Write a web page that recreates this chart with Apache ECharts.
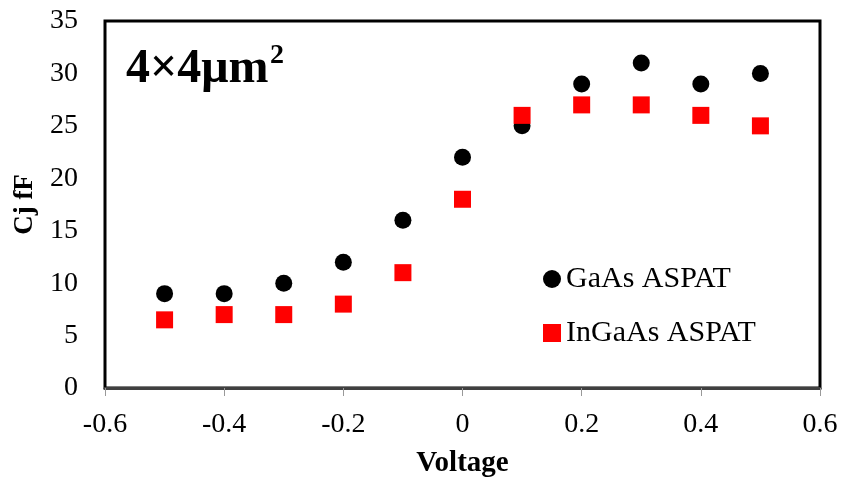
<!DOCTYPE html>
<html>
<head>
<meta charset="utf-8">
<script src="https://cdn.jsdelivr.net/npm/echarts@6/dist/echarts.min.js"></script>
<style>
  html, body { margin: 0; padding: 0; background: #fff; }
  #chart { width: 842px; height: 480px; }
</style>
</head>
<body>
<div id="chart"></div>
<script>
// Junction capacitance versus bias voltage, 4x4 um^2 devices
const voltage = [-0.5, -0.4, -0.3, -0.2, -0.1, 0, 0.1, 0.2, 0.3, 0.4, 0.5];
const gaasCj = [9, 9, 10, 12, 16, 22, 25, 29, 31, 29, 30];
const ingaasCj = [6.5, 7, 7, 8, 11, 18, 26, 27, 27, 26, 25];
const yTicks = [0, 5, 10, 15, 20, 25, 30, 35];
const xTicks = [-0.6, -0.4, -0.2, 0, 0.2, 0.4, 0.6];

const serif = '"Liberation Serif", "Times New Roman", serif';
const pairs = (xs, ys) => xs.map((x, i) => [x, ys[i]]);

const chart = echarts.init(document.getElementById('chart'), null, { renderer: 'canvas' });
chart.setOption({
  animation: false,
  backgroundColor: '#ffffff',
  grid: {
    left: 105, right: 22, top: 21, bottom: 92,
    outerBoundsMode: 'none',
    containLabel: false,
    show: true, borderColor: '#000', borderWidth: 3, backgroundColor: 'transparent'
  },
  xAxis: {
    type: 'value',
    min: xTicks[0], max: xTicks[xTicks.length - 1], interval: 0.2,
    name: 'Voltage', nameLocation: 'middle', nameGap: 61,
    nameTextStyle: { fontFamily: serif, fontWeight: 'bold', fontSize: 29, color: '#000' },
    axisLine: { show: true, lineStyle: { color: '#404040', width: 3 } },
    axisTick: { show: true, length: 8, lineStyle: { color: '#999', width: 1 } },
    axisLabel: { fontFamily: serif, fontSize: 28, color: '#000', margin: 23 },
    splitLine: { show: false }
  },
  yAxis: {
    type: 'value',
    min: yTicks[0], max: yTicks[yTicks.length - 1], interval: 5,
    name: 'Cj fF', nameLocation: 'middle', nameGap: 66,
    nameTextStyle: { fontFamily: serif, fontWeight: 'bold', fontSize: 27, color: '#000' },
    axisLine: { show: false },
    axisTick: { show: false },
    axisLabel: { fontFamily: serif, fontSize: 28, color: '#000', margin: 27 },
    splitLine: { show: false }
  },
  legend: {
    orient: 'vertical',
    left: 538, top: 258,
    itemWidth: 18, itemHeight: 18, itemGap: 22,
    textStyle: { fontFamily: serif, fontSize: 30, color: '#000', lineHeight: 32 },
    data: [
      { name: 'GaAs ASPAT', icon: 'circle' },
      { name: 'InGaAs ASPAT', icon: 'rect' }
    ]
  },
  graphic: [
    {
      type: 'text', left: 126, top: 46,
      style: { text: '4×4μm', font: 'bold 48px ' + serif, fill: '#000' }
    },
    {
      type: 'text', left: 270, top: 42,
      style: { text: '2', font: 'bold 28px ' + serif, fill: '#000' }
    }
  ],
  series: [
    {
      name: 'GaAs ASPAT', type: 'scatter', symbol: 'circle', symbolSize: 17,
      itemStyle: { color: '#000', opacity: 1 },
      data: pairs(voltage, gaasCj)
    },
    {
      name: 'InGaAs ASPAT', type: 'scatter', symbol: 'rect', symbolSize: 17,
      itemStyle: { color: '#ff0000', opacity: 1 },
      data: pairs(voltage, ingaasCj)
    }
  ]
});
</script>
</body>
</html>
